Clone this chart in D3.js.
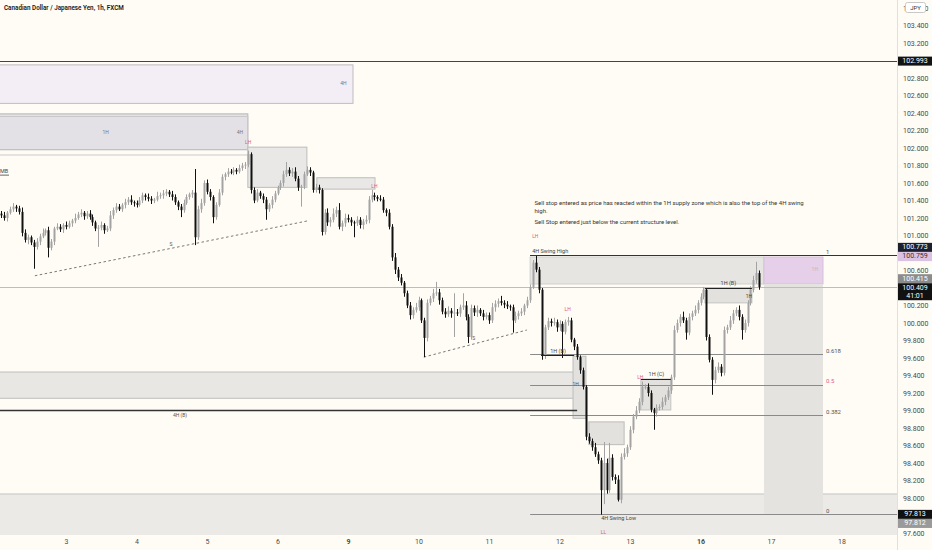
<!DOCTYPE html>
<html><head><meta charset="utf-8">
<script src="https://cdn.jsdelivr.net/npm/d3@7"></script>
<style>body{margin:0;background:#fffcf5}svg{display:block}text{font-family:Roboto,"Liberation Sans",sans-serif}</style>
</head><body>
<svg id="c" width="932" height="550"></svg>
<script>
// ---------- DATA ----------
const title = "Canadian Dollar / Japanese Yen, 1h, FXCM";
const dayLabels = ["3","4","5","6","9","10","11","12","13","16","17","18"];
const boldDays = ["9","16"];
const priceTicks = [103.6,103.4,103.2,103.0,102.8,102.6,102.4,102.2,102.0,101.8,101.6,101.4,101.2,101.0,100.8,100.6,100.4,100.2,100.0,99.8,99.6,99.4,99.2,99.0,98.8,98.6,98.4,98.2,98.0,97.8,97.6];
const firstOpen = 101.25;
const closes = [
101.23,101.20,101.26,101.30,101.33,101.31,101.27,101.03,100.95,100.98,
100.92,100.87,100.93,100.99,101.03,101.06,100.86,100.93,101.08,101.10,
101.07,101.12,101.10,101.14,101.17,101.20,101.24,101.26,101.22,101.25,
101.21,101.15,101.08,101.09,101.12,101.06,101.08,101.23,101.29,101.33,
101.30,101.35,101.38,101.41,101.38,101.37,101.35,101.40,101.46,101.44,
101.42,101.40,101.41,101.45,101.46,101.48,101.50,101.47,101.44,101.38,
101.33,101.29,101.37,101.44,101.47,101.49,100.98,101.30,101.37,101.60,
101.50,101.44,101.21,101.35,101.49,101.67,101.70,101.73,101.72,101.75,
101.73,101.77,101.80,101.81,101.93,101.52,101.40,101.49,101.45,101.41,
101.30,101.35,101.41,101.48,101.55,101.60,101.70,101.75,101.71,101.73,
101.65,101.55,101.56,101.70,101.75,101.72,101.52,101.55,101.52,101.04,
101.26,101.15,101.18,101.25,101.29,101.10,101.14,101.20,101.18,101.15,
101.14,101.18,101.12,101.16,101.18,101.41,101.46,101.44,101.42,101.41,
101.29,101.26,101.10,100.75,100.61,100.52,100.46,100.34,100.20,100.09,
100.15,100.18,100.26,100.03,99.83,100.23,100.28,100.34,100.35,100.26,
100.13,100.10,100.14,100.11,100.12,100.11,100.18,100.20,100.07,99.84,
100.17,100.12,100.15,100.11,100.07,100.09,100.03,100.18,100.22,100.25,
100.23,100.21,100.19,100.18,100.03,100.08,100.11,100.13,100.20,100.26,
100.41,100.69,100.61,100.38,99.63,99.95,100.02,100.00,100.01,99.95,
99.99,99.90,100.01,100.03,99.81,99.73,99.61,99.46,99.27,98.70,
98.65,98.58,98.50,98.43,98.09,98.40,98.09,98.46,98.24,98.21,
97.98,98.47,98.51,98.58,98.78,98.93,99.00,99.10,99.27,99.27,
99.20,99.01,98.97,99.03,99.04,99.10,99.15,99.23,99.38,99.92,
100.00,100.07,100.03,99.89,100.07,100.11,100.15,100.23,100.30,100.38,
99.84,99.58,99.35,99.46,99.50,99.43,99.92,99.95,100.03,100.11,
100.15,100.07,99.92,100.00,100.23,100.38,100.49,100.57,100.41];
// upper / lower wick lengths in pips (0.01 JPY)
const wickTop = [
3,4,2,3,4,2,3,5,4,3, 2,3,4,3,5,2,4,3,2,4, 3,2,4,3,2,5,3,4,2,3, 4,3,2,3,4,2,3,5,3,4,
3,2,4,3,5,2,3,4,3,2, 4,3,2,5,3,4,3,2,4,3, 2,3,4,3,2,3,27,4,5,3, 4,3,2,3,4,3,2,4,3,3,
2,4,3,3,4,2,3,4,2,3, 3,2,4,3,2,3,4,9,3,4, 5,3,2,3,4,3,2,4,3,2, 4,5,3,6,4,8,3,5,4,3,
2,4,3,3,5,4,6,3,2,4, 3,2,4,3,5,3,4,2,3,4, 3,5,4,2,3,4,3,5,12,4, 3,4,5,3,22,4,3,14,5,3,
4,3,5,2,4,3,3,5,4,3, 6,3,4,2,3,5,3,4,2,4, 3,3,8,3,2,3,4,3,5,3, 4,3,3,4,3,2,3,2,3,2,
4,3,5,3,3,24,5,17,4,3, 5,4,6,3,4,3,5,4,6,3, 4,3,2,4,3,5,3,4,3,5, 4,3,6,3,4,3,5,3,4,3,
2,3,3,4,5,3,4,3,5,4, 3,5,3,4,3,4,5,13,3];
const wickBot = [
3,3,4,2,3,4,3,4,3,5, 3,25,3,4,2,3,11,3,4,2, 3,4,3,2,4,3,2,3,4,3, 3,4,3,21,3,4,2,3,4,3,
2,3,4,3,3,4,3,2,3,4, 3,4,3,2,3,4,3,3,4,3, 4,8,3,2,3,4,9,3,4,3, 3,4,7,3,2,3,4,3,2,3,
3,2,3,4,3,4,3,2,3,4, 12,3,4,3,2,3,4,3,3,4, 3,4,22,3,2,4,3,3,4,4, 3,4,5,3,4,3,5,4,3,4,
16,3,4,5,3,4,3,4,3,2, 3,4,3,4,5,4,3,4,3,5, 4,3,4,3,22,4,3,4,3,5, 3,4,3,5,27,3,4,3,4,7,
3,4,5,3,4,3,4,3,5,4, 3,4,3,4,14,3,4,3,4,3, 3,2,3,4,5,4,3,4,3,5, 4,30,3,4,3,4,3,4,3,4,
3,4,3,4,28,16,4,3,4,5, 2,4,3,4,3,4,3,3,4,3, 4,3,19,4,3,3,4,3,4,3, 3,4,3,8,3,4,3,4,3,3,
4,3,17,4,3,4,3,4,3,4, 3,4,11,3,4,3,3,4,3];
const swingHigh = 100.773, swingLow = 97.813;
const fibLevels = [1, 0.618, 0.5, 0.382, 0];
const fibLabels = ["1", "0.618", "0.5", "0.382", "0"];
const lastPrice = 100.409;
const priceTagText = ["102.993","100.773","100.759","100.415","100.409","97.813","97.812"];
const priceTagValue = [102.993,100.773,100.759,100.415,100.409,97.813,97.812];
const noteLines = ["Sell stop entered as price has reacted within the 1H supply zone which is also the top of the 4H swing","high.","Sell Stop entered just below the current structure level."];

// ---------- SETUP ----------
const W=932,H=550,plotR=897,plotB=535;
const svg=d3.select('#c');
svg.append('rect').attr('width',W).attr('height',H).attr('fill','#fffcf5');
const x=d3.scaleLinear().domain([22,22+24*11]).range([66,66+70.5*11]);
const y=d3.scaleLinear().domain([97.6,103.6]).range([533,8]);
const defs=svg.append('defs');
defs.append('clipPath').attr('id','clip').append('rect').attr('x',0).attr('y',0).attr('width',plotR).attr('height',plotB);
const g=svg.append('g').attr('clip-path','url(#clip)');

function box(i0,i1,p0,p1,fill,stroke,op){
  return g.append('rect').attr('x',x(i0)).attr('y',y(p0)).attr('width',x(i1)-x(i0)).attr('height',y(p1)-y(p0))
   .attr('fill',fill).attr('fill-opacity',op==null?1:op).attr('stroke',stroke||'none').attr('stroke-width',1);
}
function hline(i0,i1,p,color,w,dash){
  return g.append('line').attr('x1',x(i0)).attr('x2',x(i1)).attr('y1',Math.round(y(p))+0.5).attr('y2',Math.round(y(p))+0.5)
   .attr('stroke',color).attr('stroke-width',w||1).attr('stroke-dasharray',dash||null);
}
function label(i,p,t,color,size,anchor,weight){
  return g.append('text').attr('x',x(i)).attr('y',y(p)).text(t).attr('fill',color||'#555')
    .attr('font-size',size||5.5).attr('text-anchor',anchor||'middle').attr('font-weight',weight||400).attr('dominant-baseline','middle');
}
const iRight = x.invert(plotR+2), iLeft = x.invert(-2);

// ---------- ZONES (below candles) ----------
box(iLeft,iRight,98.046,97.3,'#ebeae7','#c4c4c4');
box(iLeft,196,99.44,99.14,'#e8e7e4','#bdbdbd');
box(iLeft,119.7,102.95,102.51,'#f3eef6','#bdbdbd');
box(iLeft,83.9,102.39,101.98,'#e3e1e6','#b5b5b5');
box(iLeft,83.9,102.36,101.92,'none','#c9c9c9');
box(83.9,104,102.01,101.55,'#e9e8e6','#bdbdbd');
box(107.4,127.2,101.66,101.53,'#e9e8e6','#bdbdbd');
box(180,259.6,100.754,100.446,'#e6e5e2','#cfcfcf');
box(259.6,279.7,100.754,100.446,'#e6cfe8','#d8bfdb');
box(259.6,279.7,100.446,97.813,'#e4e3e0',null);
box(239.5,255.5,100.40,100.23,'#e2e1de','#c4c4c4');
box(194.6,199,99.62,98.91,'#e2e1de','#bdbdbd');
box(217.7,227.9,99.36,99.006,'#e2e1de','#c4c4c4');
box(200,212,98.87,98.61,'#e2e1de','#bdbdbd');

hline(iLeft,iRight,102.993,'#444',1);
hline(iLeft,iRight,lastPrice,'#bdbdbd',1);
hline(iLeft,196,99.006,'#333',1.5);

const fibRange=swingHigh-swingLow;
fibLevels.forEach((f,k)=>{
  const p=swingLow+f*fibRange;
  const col = f===0.5?'#e0607e':(f===1?'#333':'#8a8a8a');
  const end = (f===1||f===0)? iRight : 279.7;
  hline(180,end,p,col,1);
  label(280.7,p+0.035,fibLabels[k],f===0.5?'#e0607e':'#555',6,'start');
});

g.append('line').attr('x1',x(11.4)).attr('y1',y(100.54)).attr('x2',x(104.7)).attr('y2',y(101.17)).attr('stroke','#555').attr('stroke-dasharray','2.5,2.5').attr('stroke-width',0.8);
g.append('line').attr('x1',x(143.8)).attr('y1',y(99.61)).attr('x2',x(178.9)).attr('y2',y(99.92)).attr('stroke','#555').attr('stroke-dasharray','2.5,2.5').attr('stroke-width',0.8);

// ---------- CANDLES ----------
const candles=closes.map((c,i)=>{const o=i?closes[i-1]:firstOpen;return{i,o,c,h:Math.max(o,c)+(wickTop[i]||0)/100,l:Math.min(o,c)-(wickBot[i]||0)/100};});
const cg=g.append('g');
cg.selectAll('line').data(candles).join('line')
  .attr('x1',d=>Math.round(x(d.i))+0.5).attr('x2',d=>Math.round(x(d.i))+0.5)
  .attr('y1',d=>y(d.h)).attr('y2',d=>y(d.l))
  .attr('stroke',d=>d.c>=d.o?'#a3a3a3':'#111').attr('stroke-width',1);
cg.selectAll('rect').data(candles).join('rect')
  .attr('x',d=>Math.round(x(d.i))-0.5).attr('width',2)
  .attr('y',d=>y(Math.max(d.o,d.c))).attr('height',d=>Math.max(1,Math.abs(y(d.o)-y(d.c))))
  .attr('fill',d=>d.c>=d.o?'#a3a3a3':'#111');

hline(180,iRight,swingHigh,'#333',1);
hline(239.5,255.5,100.40,'#222',1);
hline(183.7,195,99.634,'#222',1);
hline(217.7,227.9,99.36,'#222',1);

// ---------- LABELS ----------
label(117.5,102.73,'4H','#777',5,'end');
label(35.5,102.18,'1H','#777',5,'middle');
label(82.3,102.17,'4H','#777',5,'end');
label(84,102.06,'LH','#e0607e',5);
label(127,101.56,'LH','#e0607e',5);
g.append('text').attr('x',0).attr('y',y(101.73)).attr('dominant-baseline','middle').attr('font-size',5.5).attr('fill','#444').text('MB');
g.append('line').attr('x1',0).attr('x2',9).attr('y1',y(101.69)).attr('y2',y(101.69)).attr('stroke','#444').attr('stroke-width',0.8);
label(57.7,100.90,'S','#555',5);
label(160.8,99.82,'S','#555',5);
label(60.8,98.94,'4H (B)','#555',5);
label(180.7,100.82,'4H Swing High','#444',5.5,'start');
label(180.7,100.99,'LH','#e0607e',5,'start');
label(247.5,100.45,'1H (B)','#444',5.5);
label(254.5,100.30,'1H','#444',5,'middle');
label(189.5,99.67,'1H (B)','#444',5.5);
label(195.5,99.30,'1H','#555',5,'middle');
label(223,99.41,'1H (C)','#444',5.5);
label(192.8,100.15,'LH','#e0607e',5);
label(217.5,99.37,'LH','#e0607e',5);
label(278,100.61,'1H','#bbb',5,'end');
label(204.2,97.76,'4H Swing Low','#444',5.5,'start');
label(205,97.60,'LL','#e0607e',5);
const note=g.append('text').attr('font-size',6).attr('fill','#333');
note.append('tspan').attr('x',x(181.5)).attr('y',y(101.345)).text(noteLines[0]);
note.append('tspan').attr('x',x(181.5)).attr('y',y(101.262)).text(noteLines[1]);
note.append('tspan').attr('x',x(181.5)).attr('y',y(101.126)).text(noteLines[2]);

svg.append('text').attr('x',4).attr('y',10).attr('font-size',6.3).attr('font-weight',600).attr('fill','#131722').text(title);

// ---------- AXES ----------
svg.append('rect').attr('x',plotR).attr('y',0).attr('width',W-plotR).attr('height',H).attr('fill','#fffcf5');
svg.append('line').attr('x1',plotR+0.5).attr('x2',plotR+0.5).attr('y1',0).attr('y2',H).attr('stroke','#e2e0da');

const tagNudge=[0,-8,0,-8,0.5,0,9];
const tagCenters=priceTagValue.map((p,k)=>y(p)+tagNudge[k]);
const visibleTicks=priceTicks.filter(t=>tagCenters.every(c=>Math.abs(y(t)-c)>6.5));
const yAxis=d3.axisRight(y).tickValues(visibleTicks).tickFormat(d3.format('.3f')).tickSize(0).tickPadding(6);
const ya=svg.append('g').attr('transform',`translate(${plotR},0)`).call(yAxis);
ya.select('.domain').remove();
ya.selectAll('text').attr('font-size',7).attr('fill','#4a4a4a').attr('font-family','Roboto,sans-serif');

const dayIdx=dayLabels.map((d,k)=>22+24*k);
const xAxis=d3.axisBottom(x).tickValues(dayIdx).tickFormat((d,k)=>dayLabels[k]).tickSize(0).tickPadding(4);
const xa=svg.append('g').attr('transform',`translate(0,${plotB})`).call(xAxis);
xa.select('.domain').remove();
xa.selectAll('text').attr('font-size',7).attr('fill','#4a4a4a').attr('font-family','Roboto,sans-serif')
  .attr('font-weight',(d,k)=>boldDays.includes(dayLabels[k])?700:400);

const tagBg=['#131313','#1c1f2e','#dcc2e2','#8c8c8c','#111','#111','#9a9a9a'];
const tagFg=['#fff','#fff','#333','#fff','#fff','#fff','#fff'];
priceTagValue.forEach((p,k)=>{
  const cy=tagCenters[k];
  const hgt = k===4?17:9;
  svg.append('rect').attr('x',plotR+1).attr('y',cy-4.5).attr('width',34).attr('height',hgt).attr('fill',tagBg[k]);
  svg.append('text').attr('x',plotR+18).attr('y',cy).attr('dominant-baseline','middle').attr('text-anchor','middle')
    .attr('font-size',7).attr('fill',tagFg[k]).text(priceTagText[k]);
  if(k===4) svg.append('text').attr('x',plotR+18).attr('y',cy+8).attr('dominant-baseline','middle').attr('text-anchor','middle')
    .attr('font-size',7).attr('fill','#fff').text('41:01');
});
svg.append('rect').attr('x',905.5).attr('y',2.5).attr('width',20).attr('height',10).attr('rx',2).attr('fill','#fff').attr('stroke','#c8c8c8');
svg.append('text').attr('x',915.5).attr('y',8).attr('dominant-baseline','middle').attr('text-anchor','middle').attr('font-size',6).attr('fill','#333').text('JPY');
</script>
</body></html>
